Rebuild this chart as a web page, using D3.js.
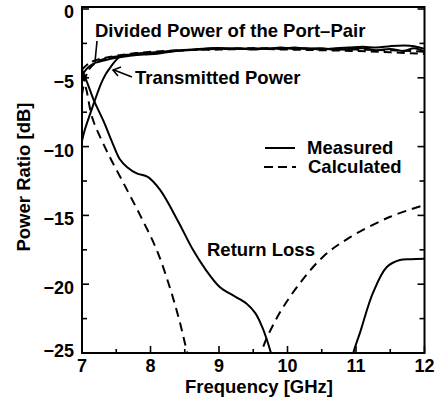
<!DOCTYPE html>
<html><head><meta charset="utf-8">
<script src="https://cdn.jsdelivr.net/npm/d3@7"></script>
<style>
body{margin:0;background:#fff;}
text{font-family:"Liberation Sans",Arial,sans-serif;fill:#000;font-weight:bold;}
</style></head>
<body><svg id="c" width="437" height="403"></svg>
<script>
// ---- data (frequency GHz, power ratio dB) ----
const xTicks = [7, 8, 9, 10, 11, 12];
const yTicks = [0, -5, -10, -15, -20, -25];
const dividedMeasured = [[7.0,-4.8],[7.1,-4.2],[7.2,-3.9],[7.35,-3.7],[7.5,-3.55],[7.7,-3.4],[7.9,-3.3],[8.1,-3.25],[8.3,-3.1],[8.5,-3.0],[8.7,-2.95],[8.9,-2.85],[9.1,-2.85],[9.3,-2.9],[9.5,-2.85],[9.7,-2.9],[9.9,-2.8],[10.1,-2.9],[10.3,-2.85],[10.5,-2.95],[10.7,-2.85],[10.9,-2.8],[11.1,-2.75],[11.3,-2.8],[11.5,-2.7],[11.7,-2.65],[11.85,-2.7],[12.0,-2.9]];
const dividedCalculated = [[7.0,-4.4],[7.1,-3.95],[7.25,-3.65],[7.5,-3.4],[7.8,-3.2],[8.2,-3.05],[8.6,-2.95],[9.0,-2.9],[9.5,-2.85],[10.0,-2.85],[10.5,-2.9],[11.0,-2.95],[11.5,-3.0],[12.0,-3.1]];
const transMeasured = [[7.0,-9.6],[7.04,-8.8],[7.12,-7.6],[7.19,-6.6],[7.28,-5.4],[7.35,-4.7],[7.42,-4.2],[7.5,-3.7],[7.57,-3.4],[7.7,-3.3],[7.9,-3.2],[8.1,-3.15],[8.3,-3.05],[8.5,-3.0],[8.7,-2.9],[8.9,-2.85],[9.1,-2.9],[9.3,-2.85],[9.5,-2.95],[9.7,-2.85],[9.9,-2.9],[10.1,-2.8],[10.3,-2.9],[10.5,-2.85],[10.7,-2.95],[10.9,-2.9],[11.1,-2.85],[11.3,-3.0],[11.5,-2.9],[11.7,-3.05],[11.85,-2.85],[12.0,-3.1]];
const transCalculated = [[7.0,-6.2],[7.05,-5.0],[7.1,-4.4],[7.2,-3.9],[7.35,-3.6],[7.6,-3.4],[8.0,-3.2],[8.5,-3.0],[9.0,-2.95],[9.5,-2.9],[10.0,-2.95],[10.5,-3.0],[11.0,-3.05],[11.5,-3.15],[12.0,-3.25]];
const returnMeasured = [[7.0,-4.4],[7.08,-5.4],[7.17,-6.6],[7.31,-8.1],[7.45,-9.8],[7.55,-10.9],[7.66,-11.5],[7.8,-11.95],[7.96,-12.2],[8.14,-13.15],[8.4,-15.4],[8.62,-17.5],[8.8,-18.9],[9.01,-20.2],[9.2,-20.8],[9.4,-21.4],[9.53,-22.1],[9.63,-23.1],[9.71,-24.2],[9.78,-25.3],[10.1,-29],[10.5,-31],[10.85,-27.5],[10.96,-25.0],[11.06,-23.5],[11.25,-20.6],[11.45,-18.75],[11.64,-18.24],[11.8,-18.18],[12.0,-18.15]];
const returnCalculated = [[7.0,-4.6],[7.07,-6.0],[7.15,-7.9],[7.35,-10.2],[7.6,-12.6],[7.85,-15.0],[8.09,-17.5],[8.28,-20.2],[8.42,-22.6],[8.55,-25.2],[8.8,-29],[9.2,-31],[9.5,-27.5],[9.62,-24.9],[9.85,-22.4],[10.14,-20.2],[10.52,-18.0],[10.91,-16.6],[11.5,-15.1],[12.0,-14.25]];
const series = [
  {data: dividedMeasured, dash: null},
  {data: dividedCalculated, dash: "8,5"},
  {data: transMeasured, dash: null},
  {data: transCalculated, dash: "8,5"},
  {data: returnMeasured, dash: null},
  {data: returnCalculated, dash: "9,6"}
];

const svg = d3.select("#c");
const L = 82, R = 424.5, T = 9, B = 353;
const x = d3.scaleLinear().domain([7, 12]).range([L, R]);
const y = d3.scaleLinear().domain([-25, 0]).range([B, T]);

svg.append("clipPath").attr("id","clip").append("rect")
  .attr("x",L).attr("y",T-4).attr("width",R-L).attr("height",B-T+4);

const line = d3.line().x(d=>x(d[0])).y(d=>y(d[1])).curve(d3.curveCatmullRom.alpha(0.5));
const g = svg.append("g").attr("clip-path","url(#clip)");
series.forEach(s=>{
  g.append("path").attr("d",line(s.data)).attr("fill","none")
   .attr("stroke","#000").attr("stroke-width",2)
   .attr("stroke-dasharray",s.dash);
});

// frame
svg.append("rect").attr("x",L).attr("y",T-2).attr("width",R-L).attr("height",B-T+2)
  .attr("fill","none").attr("stroke","#000").attr("stroke-width",2);

// ticks
const ax = svg.append("g").attr("stroke","#000").attr("stroke-width",1.6);
d3.range(7, 12.01, 0.5).forEach(v=>{
  const len = Number.isInteger(v) ? 7 : 4;
  ax.append("line").attr("x1",x(v)).attr("x2",x(v)).attr("y1",B).attr("y2",B-len);
});
d3.range(-25, 0.01, 2.5).forEach(v=>{
  const len = (v % 5 === 0) ? 7 : 5;
  ax.append("line").attr("x1",L).attr("x2",L+len).attr("y1",y(v)).attr("y2",y(v));
  ax.append("line").attr("x1",R).attr("x2",R-len).attr("y1",y(v)).attr("y2",y(v));
});

// tick labels
xTicks.forEach(v=>{
  svg.append("text").attr("x",x(v)).attr("y",372).attr("text-anchor","middle")
    .attr("font-size",18).text(v);
});
yTicks.forEach(v=>{
  svg.append("text").attr("x",74).attr("y",y(v)+ (v===0?9:v===-25?4:10)).attr("text-anchor","end")
    .attr("font-size",18).text(v===0?"0":"\u2212"+Math.abs(v));
});

// axis titles
svg.append("text").attr("x",259).attr("y",393).attr("text-anchor","middle")
  .attr("font-size",18.5).text("Frequency [GHz]");
svg.append("text").attr("transform","translate(30,177) rotate(-90)").attr("text-anchor","middle")
  .attr("font-size",18.5).text("Power Ratio [dB]");

// annotations
svg.append("text").attr("x",95).attr("y",37).attr("font-size",18.5).text("Divided Power of the Port\u2013Pair");
svg.append("line").attr("x1",97).attr("y1",41).attr("x2",95).attr("y2",62).attr("stroke","#000").attr("stroke-width",1.6);
svg.append("text").attr("x",135).attr("y",84).attr("font-size",18.5).text("Transmitted Power");
svg.append("line").attr("x1",132).attr("y1",77).attr("x2",114).attr("y2",70).attr("stroke","#000").attr("stroke-width",1.6);
svg.append("path").attr("d","M121,67 L113,70 L118,76").attr("fill","none").attr("stroke","#000").attr("stroke-width",1.6);
svg.append("text").attr("x",207).attr("y",256).attr("font-size",18.5).text("Return Loss");

// legend
svg.append("line").attr("x1",265).attr("x2",295).attr("y1",148).attr("y2",148).attr("stroke","#000").attr("stroke-width",2);
svg.append("text").attr("x",307).attr("y",154).attr("font-size",18.5).text("Measured");
svg.append("line").attr("x1",264).attr("x2",296).attr("y1",167).attr("y2",167).attr("stroke","#000").attr("stroke-width",2).attr("stroke-dasharray","9,5");
svg.append("text").attr("x",308).attr("y",173).attr("font-size",18.5).text("Calculated");
</script></body></html>
